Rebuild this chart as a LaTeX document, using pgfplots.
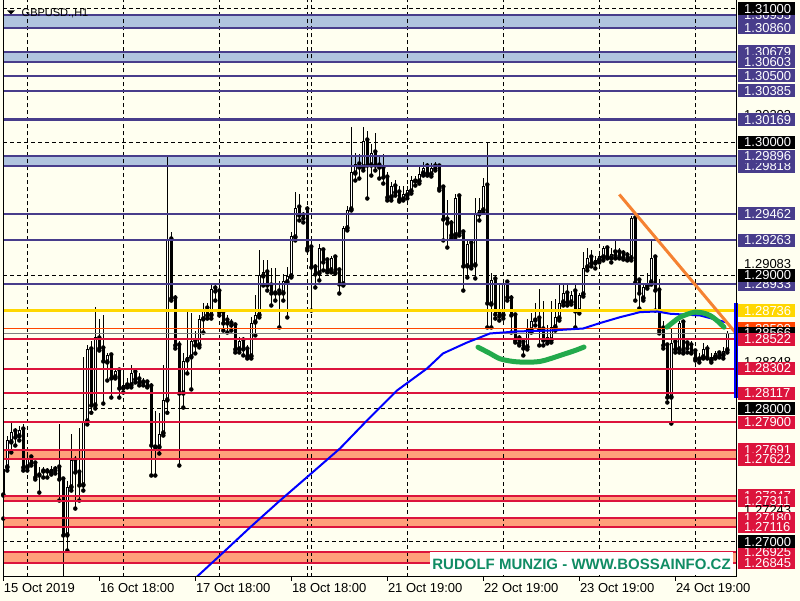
\documentclass[border=0pt]{standalone}
\usepackage{pgfplots}
\pgfplotsset{compat=1.18}
\usepackage{pgfplotstable}
\usepackage{fontspec}
\setmainfont{Liberation Sans}
\definecolor{bgc}{RGB}{255,255,240}
\definecolor{dsb}{RGB}{72,61,139}
\definecolor{lsb}{RGB}{176,196,222}
\definecolor{crim}{RGB}{220,20,60}
\definecolor{salm}{RGB}{255,160,122}
\definecolor{gld}{RGB}{255,215,0}
\definecolor{ored}{RGB}{255,69,0}
\definecolor{trend}{RGB}{245,130,50}
\definecolor{arcg}{RGB}{35,170,75}
\definecolor{wm}{RGB}{16,140,100}

\pgfplotstableread{
x O H L C
3.3 1.27349 1.27574 1.27176 1.27551
7.3 1.27559 1.27799 1.27536 1.27762
11.3 1.27747 1.27897 1.27672 1.27822
15.3 1.27829 1.27852 1.27724 1.27784
19.3 1.27792 1.27874 1.27762 1.27844
23.3 1.27844 1.27882 1.27536 1.27559
27.3 1.27559 1.27672 1.27536 1.27634
31.3 1.27634 1.27649 1.27574 1.27589
35.3 1.27589 1.27604 1.27469 1.27484
39.3 1.27499 1.27566 1.27371 1.27521
43.3 1.27529 1.27566 1.27484 1.27528
47.3 1.27529 1.27559 1.27484 1.27536
51.3 1.27521 1.27574 1.27506 1.27551
55.3 1.27544 1.27574 1.27514 1.27536
59.3 1.27559 1.27882 1.27311 1.27469
63.3 1.27469 1.27484 1.26726 1.27049
67.3 1.27049 1.27461 1.26936 1.27409
71.3 1.27409 1.27814 1.27386 1.27619
75.3 1.27611 1.27649 1.27251 1.27521
79.3 1.27521 1.27859 1.27311 1.27424
83.3 1.27424 1.28385 1.27386 1.27897
87.3 1.27904 1.28475 1.27882 1.28445
91.3 1.28445 1.28512 1.27970 1.28024
95.3 1.28024 1.28760 1.28002 1.28535
99.3 1.28527 1.28677 1.28437 1.28452
103.3 1.28452 1.28700 1.28039 1.28355
107.3 1.28347 1.28415 1.28212 1.28400
111.3 1.28400 1.28415 1.28084 1.28227
115.3 1.28235 1.28302 1.28227 1.28287
119.3 1.28287 1.28302 1.28084 1.28152
123.3 1.28152 1.28257 1.28122 1.28175
127.3 1.28175 1.28227 1.28160 1.28190
131.3 1.28175 1.28332 1.28160 1.28272
135.3 1.28272 1.28302 1.28197 1.28220
139.3 1.28220 1.28272 1.28175 1.28197
143.3 1.28197 1.28227 1.28175 1.28195
147.3 1.28197 1.28212 1.28160 1.28167
151.3 1.28167 1.28190 1.27499 1.27724
155.3 1.27709 1.27985 1.27499 1.27724
159.3 1.27709 1.27970 1.27664 1.27814
163.3 1.27814 1.28325 1.27799 1.28062
167.3 1.28062 1.29886 1.27970 1.29270
171.3 1.29270 1.29330 1.28812 1.28827
175.3 1.28827 1.28850 1.28452 1.28475
179.3 1.28475 1.28512 1.27574 1.28114
183.3 1.28114 1.28415 1.28009 1.28362
187.3 1.28362 1.28745 1.28265 1.28385
191.3 1.28385 1.28722 1.28145 1.28505
195.3 1.28505 1.28587 1.28415 1.28475
199.3 1.28475 1.28700 1.28460 1.28670
203.3 1.28670 1.28797 1.28572 1.28752
207.3 1.28752 1.28797 1.28677 1.28700
211.3 1.28700 1.28940 1.28677 1.28902
215.3 1.28902 1.28925 1.28812 1.28880
219.3 1.28880 1.28925 1.28700 1.28722
223.3 1.28722 1.28752 1.28587 1.28640
227.3 1.28662 1.28700 1.28572 1.28640
231.3 1.28640 1.28677 1.28587 1.28625
235.3 1.28625 1.28647 1.28422 1.28445
239.3 1.28445 1.28535 1.28422 1.28512
243.3 1.28512 1.28542 1.28400 1.28445
247.3 1.28445 1.28475 1.28377 1.28392
251.3 1.28392 1.28685 1.28377 1.28647
255.3 1.28647 1.28850 1.28550 1.28700
259.3 1.28700 1.29195 1.28685 1.29000
263.3 1.28993 1.29120 1.28925 1.29023
267.3 1.29023 1.29120 1.28887 1.28925
271.3 1.28925 1.29053 1.28775 1.28865
275.3 1.28865 1.29053 1.28812 1.28880
279.3 1.28880 1.28955 1.28610 1.28865
283.3 1.28865 1.29008 1.28812 1.28955
287.3 1.28948 1.29060 1.28685 1.28993
291.3 1.28993 1.29323 1.28985 1.29293
295.3 1.29285 1.29630 1.29263 1.29510
299.3 1.29510 1.29608 1.29413 1.29450
303.3 1.29450 1.29473 1.29398 1.29428
307.3 1.29495 1.29525 1.29188 1.29203
311.3 1.29210 1.29263 1.28737 1.29060
315.3 1.29060 1.29090 1.28910 1.29008
319.3 1.29015 1.29240 1.28963 1.29203
323.3 1.29188 1.29210 1.29038 1.29098
327.3 1.29113 1.29135 1.29023 1.29038
331.3 1.29038 1.29150 1.29023 1.29128
335.3 1.29135 1.29143 1.29015 1.29023
339.3 1.29038 1.29053 1.28865 1.28933
343.3 1.28933 1.29375 1.28925 1.29353
347.3 1.29353 1.29518 1.29338 1.29495
351.3 1.29495 1.30111 1.29488 1.29773
355.3 1.29765 1.29923 1.29713 1.29840
359.3 1.29833 1.29915 1.29728 1.29810
363.3 1.29810 1.30111 1.29788 1.30013
367.3 1.30013 1.30088 1.29578 1.29825
371.3 1.29825 1.29990 1.29750 1.29923
375.3 1.29923 1.30073 1.29788 1.29825
379.3 1.29825 1.29900 1.29728 1.29810
383.3 1.29803 1.29915 1.29690 1.29735
387.3 1.29735 1.29773 1.29563 1.29585
391.3 1.29585 1.29698 1.29563 1.29668
395.3 1.29668 1.29713 1.29600 1.29623
399.3 1.29623 1.29675 1.29555 1.29570
403.3 1.29570 1.29675 1.29563 1.29608
407.3 1.29600 1.29675 1.29578 1.29645
411.3 1.29630 1.29750 1.29615 1.29713
415.3 1.29705 1.29750 1.29675 1.29713
419.3 1.29705 1.29825 1.29690 1.29765
423.3 1.29765 1.29855 1.29750 1.29810
427.3 1.29818 1.29848 1.29750 1.29765
431.3 1.29758 1.29848 1.29743 1.29803
435.3 1.29818 1.29855 1.29788 1.29803
439.3 1.29818 1.29833 1.29638 1.29653
443.3 1.29660 1.29675 1.29263 1.29420
447.3 1.29420 1.29563 1.29210 1.29390
451.3 1.29390 1.29413 1.29278 1.29300
455.3 1.29300 1.29615 1.29285 1.29585
459.3 1.29593 1.29600 1.29300 1.29315
463.3 1.29323 1.29338 1.28887 1.29068
467.3 1.29068 1.29263 1.28985 1.29240
471.3 1.29240 1.29263 1.29053 1.29068
475.3 1.29075 1.29585 1.28978 1.29465
479.3 1.29458 1.29585 1.29413 1.29488
483.3 1.29488 1.29735 1.29473 1.29668
487.3 1.29675 1.29998 1.28610 1.28790
491.3 1.28782 1.29015 1.28610 1.28963
495.3 1.28970 1.28999 1.28677 1.28707
499.3 1.28722 1.28940 1.28662 1.28692
503.3 1.28700 1.28962 1.28677 1.28947
507.3 1.28947 1.28962 1.28812 1.28835
511.3 1.28827 1.28850 1.28572 1.28700
515.3 1.28700 1.28722 1.28497 1.28512
519.3 1.28527 1.28550 1.28475 1.28490
523.3 1.28497 1.28512 1.28400 1.28452
527.3 1.28460 1.28677 1.28445 1.28595
531.3 1.28587 1.28722 1.28572 1.28662
535.3 1.28662 1.28797 1.28625 1.28670
539.3 1.28677 1.28902 1.28475 1.28595
543.3 1.28595 1.28812 1.28475 1.28512
547.3 1.28512 1.28625 1.28490 1.28535
551.3 1.28512 1.28812 1.28497 1.28610
555.3 1.28610 1.28827 1.28587 1.28685
559.3 1.28677 1.28940 1.28662 1.28797
563.3 1.28797 1.28940 1.28775 1.28865
567.3 1.28865 1.28947 1.28775 1.28797
571.3 1.28797 1.28887 1.28782 1.28850
575.3 1.28880 1.28947 1.28610 1.28730
579.3 1.28730 1.28872 1.28715 1.28857
583.3 1.28857 1.29173 1.28842 1.29060
587.3 1.29060 1.29210 1.29038 1.29128
591.3 1.29135 1.29188 1.29068 1.29090
595.3 1.29090 1.29150 1.29053 1.29113
599.3 1.29113 1.29173 1.29098 1.29143
603.3 1.29135 1.29225 1.29113 1.29203
607.3 1.29203 1.29225 1.29128 1.29143
611.3 1.29128 1.29203 1.29098 1.29165
615.3 1.29173 1.29263 1.29128 1.29150
619.3 1.29173 1.29210 1.29128 1.29135
623.3 1.29165 1.29188 1.29120 1.29135
627.3 1.29150 1.29173 1.29113 1.29120
631.3 1.29128 1.29450 1.29113 1.29428
635.3 1.29428 1.29458 1.28812 1.28947
639.3 1.28962 1.28977 1.28752 1.28865
643.3 1.28827 1.28940 1.28812 1.28917
647.3 1.28917 1.29015 1.28902 1.28947
651.3 1.28947 1.29270 1.28932 1.29135
655.3 1.29135 1.29150 1.28737 1.28887
659.3 1.28887 1.28977 1.28565 1.28587
663.3 1.28602 1.28662 1.28452 1.28475
667.3 1.28475 1.28490 1.28047 1.28084
671.3 1.28084 1.28602 1.27889 1.28497
675.3 1.28497 1.28527 1.28422 1.28445
679.3 1.28445 1.28662 1.28422 1.28647
683.3 1.28647 1.28662 1.28415 1.28437
687.3 1.28490 1.28512 1.28422 1.28452
691.3 1.28475 1.28512 1.28415 1.28422
695.3 1.28430 1.28452 1.28362 1.28377
699.3 1.28370 1.28415 1.28347 1.28385
703.3 1.28385 1.28497 1.28377 1.28445
707.3 1.28445 1.28475 1.28377 1.28385
711.3 1.28362 1.28415 1.28347 1.28385
715.3 1.28385 1.28437 1.28377 1.28415
719.3 1.28415 1.28437 1.28385 1.28400
723.3 1.28400 1.28460 1.28377 1.28437
727.3 1.28437 1.28580 1.28422 1.28565
}\candles

\newcommand{\lblfont}{\fontsize{13pt}{15pt}\selectfont}
\newcommand{\plab}[3]{\node[anchor=west, fill=#2, text=white, minimum height=13pt, inner sep=0pt, text width=57pt, align=left, font=\lblfont] at (axis cs:738,#1) {\hspace*{6pt}#3};}
\newcommand{\slab}[1]{\node[anchor=west, text=black, inner sep=0pt, font=\lblfont] at (axis cs:744,#1) {#1};}
\newcommand{\hl}[3]{\addplot[#2, line width=#3, forget plot] coordinates {(3,#1) (736.5,#1)};}
\newcommand{\hd}[1]{\addplot[black, line width=1pt, dash pattern=on 4pt off 3pt, forget plot] coordinates {(3,#1) (736.5,#1)};}
\newcommand{\vd}[1]{\addplot[black, line width=1pt, dash pattern=on 4pt off 3pt, forget plot] coordinates {(#1,1.26741) (#1,1.31064)};}
\newcommand{\band}[3]{\addplot[fill=#3, draw=none, forget plot] coordinates {(3,#1) (736.5,#1) (736.5,#2) (3,#2)};}

\begin{document}
\begin{tikzpicture}[x=1pt,y=1pt]
\fill[bgc] (0,0) rectangle (800,600);
\begin{axis}[
  at={(3pt,24pt)}, anchor=south west,
  scale only axis, width=735.5pt, height=576pt,
  xmin=3, xmax=738.5, ymin=1.26741, ymax=1.310638,
  axis line style={draw=none},
  tick pos=left, tick align=outside,
  ytick=\empty,
  xtick={3.3,99.3,195.3,291.3,387.3,483.3,579.3,675.3},
  xticklabels={15 Oct 2019,16 Oct 18:00,17 Oct 18:00,18 Oct 18:00,21 Oct 19:00,22 Oct 19:00,23 Oct 19:00,24 Oct 19:00},
  major tick length=4pt,
  tick style={black, line width=1pt},
  xticklabel style={anchor=north west, inner sep=0pt, font=\lblfont, xshift=0.5pt, yshift=-3pt},
  clip mode=individual,
]
% bands
\band{1.30860}{1.30955}{lsb}
\band{1.30603}{1.30679}{lsb}
\band{1.29818}{1.29896}{lsb}
\band{1.27622}{1.27691}{salm}
\band{1.27311}{1.27347}{salm}
\band{1.27116}{1.27180}{salm}
\band{1.26845}{1.26925}{salm}
% period separators
\vd{27.3}\vd{123.3}\vd{219.3}\vd{307.3}\vd{311.3}\vd{407.3}\vd{503.3}\vd{599.3}\vd{695.3}
% round-number dashed lines
\hd{1.31}\hd{1.30}\hd{1.29}\hd{1.28}\hd{1.27}
% candles: wicks
\addplot[only marks, mark=none, forget plot, error bars/.cd, y dir=plus, y explicit, error mark=none, error bar style={line width=1pt, black}]
  table[x=x, y=L, y error plus expr=\thisrow{H}-\thisrow{L}] {\candles};
% bodies (black)
\addplot[only marks, mark=none, forget plot, error bars/.cd, y dir=plus, y explicit, error mark=none, error bar style={line width=3pt, black}]
  table[x=x, y expr={min(\thisrow{O},\thisrow{C})}, y error plus expr={max(abs(\thisrow{C}-\thisrow{O}),0.00008)}] {\candles};
% bull interiors (white)
\addplot[only marks, mark=none, forget plot, error bars/.cd, y dir=plus, y explicit, error mark=none, error bar style={line width=1pt, white}]
  table[x=x, y expr={\thisrow{O}+0.000075}, y error plus expr={max(\thisrow{C}-\thisrow{O}-0.00015,0)}] {\candles};
% level lines
\hl{1.30955}{dsb}{2pt}\hl{1.30860}{dsb}{2pt}\hl{1.30679}{dsb}{2pt}\hl{1.30603}{dsb}{2pt}
\hl{1.30500}{dsb}{2pt}\hl{1.30385}{dsb}{2pt}\hl{1.30169}{dsb}{3pt}\hl{1.29896}{dsb}{2pt}
\hl{1.29818}{dsb}{2pt}\hl{1.29462}{dsb}{2pt}\hl{1.29263}{dsb}{2pt}\hl{1.28933}{dsb}{2pt}
\hl{1.28736}{gld}{3pt}\hl{1.28599}{ored}{1pt}\hl{1.28566}{gray}{1pt}
\hl{1.28522}{crim}{2pt}\hl{1.28302}{crim}{2pt}\hl{1.28117}{crim}{2pt}\hl{1.27900}{crim}{2pt}
\hl{1.27691}{crim}{2pt}\hl{1.27622}{crim}{2pt}\hl{1.27347}{crim}{2pt}\hl{1.27311}{crim}{2pt}
\hl{1.27180}{crim}{2pt}\hl{1.27116}{crim}{2pt}\hl{1.26925}{crim}{2pt}\hl{1.26845}{crim}{2pt}
% moving average
\addplot[blue, line width=2pt, forget plot] coordinates {
(195,1.26726) (220,1.26899) (250,1.27109) (280,1.27311) (310,1.27506) (340,1.27702)
(367,1.27912) (397,1.28137) (427,1.28302) (443,1.28415) (467,1.28497) (480,1.28535)
(490,1.28565) (517,1.28580) (550,1.28587) (583,1.28602) (600,1.28643) (620,1.28687)
(640,1.28725) (657,1.28730) (670,1.28713) (700,1.28700) (727,1.28647)};
% trend line
\addplot[trend, line width=3pt, forget plot] coordinates {(619.3,1.29608) (736.5,1.28562)};
% arcs
\addplot[arcg, line width=5pt, line cap=round, smooth, forget plot] coordinates {
(478,1.28462) (490,1.28415) (500,1.28375) (513,1.28355) (527,1.28349) (540,1.28355)
(550,1.28375) (563,1.28407) (575,1.28437) (584,1.28463)};
\addplot[arcg, line width=5pt, line cap=round, smooth, forget plot] coordinates {
(667,1.28612) (674,1.28655) (680,1.28687) (688,1.28711) (695,1.28725) (703,1.28719)
(710,1.28700) (717,1.28662) (724,1.28612)};
% blue marker bar
\addplot[blue, line width=4pt, forget plot] coordinates {(736,1.28790) (736,1.28084)};
% watermark
\node[fill=white, inner sep=0pt, minimum width=303pt, minimum height=23pt, text=wm, font=\fontsize{15pt}{17pt}\selectfont\bfseries] at (axis cs:581.5,1.26835) {RUDOLF MUNZIG - WWW.BOSSAINFO.CZ};
% frame
\draw[black, line width=1pt] (axis cs:3,1.310638) -- (axis cs:3,1.26741) -- (axis cs:736.5,1.26741) -- (axis cs:736.5,1.310638);
% title
\fill[black] (axis cs:7,1.30989) -- (axis cs:15,1.30989) -- (axis cs:11,1.30959) -- cycle;
\node[anchor=west, inner sep=0pt, font=\fontsize{11pt}{13pt}\selectfont] at (axis cs:21.5,1.30966) {GBPUSD.,H1};
% price scale labels
\plab{1.30955}{dsb}{1.30955}
\plab{1.31000}{black}{1.31000}
\plab{1.30860}{dsb}{1.30860}
\plab{1.30679}{dsb}{1.30679}
\plab{1.30603}{dsb}{1.30603}
\plab{1.30500}{dsb}{1.30500}
\plab{1.30385}{dsb}{1.30385}
\slab{1.30203}
\plab{1.30169}{dsb}{1.30169}
\plab{1.30000}{black}{1.30000}
\plab{1.29818}{dsb}{1.29818}
\plab{1.29896}{dsb}{1.29896}
\plab{1.29462}{dsb}{1.29462}
\plab{1.29263}{dsb}{1.29263}
\slab{1.29083}
\plab{1.28933}{dsb}{1.28933}
\plab{1.29000}{black}{1.29000}
\plab{1.28736}{gld}{1.28736}
\plab{1.28599}{ored}{1.28599}
\plab{1.28566}{black}{1.28566}
\plab{1.28522}{crim}{1.28522}
\slab{1.28348}
\plab{1.28302}{crim}{1.28302}
\plab{1.28117}{crim}{1.28117}
\plab{1.28000}{black}{1.28000}
\plab{1.27900}{crim}{1.27900}
\plab{1.27691}{crim}{1.27691}
\plab{1.27622}{crim}{1.27622}
\plab{1.27347}{crim}{1.27347}
\plab{1.27311}{crim}{1.27311}
\slab{1.27243}
\plab{1.27180}{crim}{1.27180}
\plab{1.27116}{crim}{1.27116}
\plab{1.26925}{crim}{1.26925}
\plab{1.27000}{black}{1.27000}
\plab{1.26845}{crim}{1.26845}
\end{axis}
\end{tikzpicture}
\end{document}
